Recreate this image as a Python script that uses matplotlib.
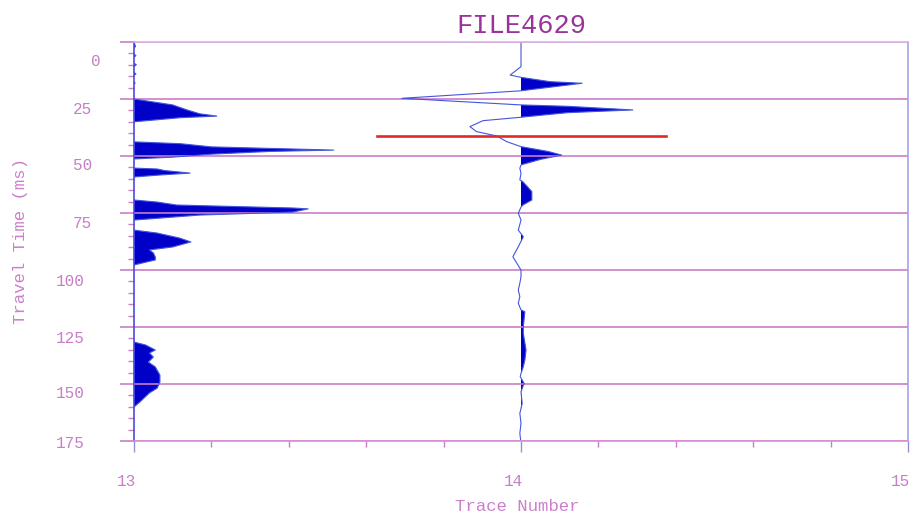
import matplotlib
matplotlib.use("Agg")
import matplotlib.pyplot as plt
import matplotlib.transforms as mtransforms
import numpy as np

# trace 13: travel time (ms) / amplitude (fraction of trace spacing)
t13 = [0, 2, 4, 6, 8, 10, 12, 14, 16, 18, 21, 25.0, 27.6, 29.8, 31.5, 32.5, 33.2, 35.0,
       39, 43.8, 44.6, 46.0, 46.8, 47.4, 48.0, 49.2, 50.5, 51.3, 53, 55.3, 55.7,
       56.4, 57.5, 58.3, 59.2, 63, 69.3, 70.2, 71.5, 72.8, 73.2, 74.6, 75.9, 78.1,
       80, 82.5, 83.8, 86.0, 87.7, 89.9, 91.2, 92.5, 94.3, 95.6, 97.8, 105, 115,
       125, 131.6, 132.9, 135.1, 136.4, 138.2, 140.4, 142.5, 146.1, 149.1, 151.8,
       153.9, 157.9, 160.1, 166, 176]
a13 = [0, 0.004, -0.01, 0.005, -0.01, 0.006, -0.01, 0.005, -0.01, 0.003, -0.02, 0, 0.10,
       0.137, 0.17, 0.214, 0.12, 0, -0.2, 0, 0.12, 0.2, 0.38, 0.516, 0.35, 0.2,
       0.1, 0, -0.1, 0, 0.06, 0.08, 0.145, 0.07, 0, -0.2, 0, 0.06, 0.11, 0.41,
       0.45, 0.41, 0.17, 0, -0.05, 0, 0.06, 0.118, 0.147, 0.10, 0.04, 0.05,
       0.055, 0.055, 0, -0.08, -0.1, -0.05, 0, 0.03, 0.055, 0.04, 0.05, 0.037,
       0.055, 0.067, 0.067, 0.06, 0.04, 0.015, 0, -0.02, 0]

# trace 14
t14 = [0, 10.8, 14.5, 15.5, 17.4, 18.1, 21.4, 24.7, 27.6, 28.2, 29.8, 31.0, 33.0,
       34.5, 37.1, 39.3, 41.2, 43.7, 45.9, 48.0, 49.6, 51.5, 53.9, 55.4, 57.6,
       60.5, 61.3, 65.6, 69.3, 71.5, 72.4, 75.1, 78.1, 82.5, 85.4, 89.8, 94.2,
       100, 102.9, 105.8, 108.8, 111.7, 114.6, 117.5, 118.3, 124.9, 127.8,
       135.1, 139.5, 142.4, 145.3, 146.8, 149.7, 153.4, 158.5, 162.9, 167.3,
       171.6, 176]
a14 = [0, 0, -0.028, 0, 0.075, 0.158, 0, -0.308, 0, 0.12, 0.289, 0.12, 0,
       -0.098, -0.132, -0.115, -0.063, -0.037, 0, 0.07, 0.105, 0.05, 0, -0.003,
       0, -0.003, 0.005, 0.028, 0.028, 0.005, 0, -0.007, 0, -0.007, 0.006,
       -0.007, -0.021, 0, 0, -0.003, -0.007, -0.003, -0.007, 0, 0.01, 0.006,
       0.006, 0.013, 0.01, 0.006, 0, -0.002, 0.008, 0, 0.003, -0.003, 0,
       -0.003, 0]

traces = [13, 14]
pick_time = 41.2
pick_span = [13.628, 14.375]

y_ticks = [0, 25, 50, 75, 100, 125, 150, 175]
x_ticks = [13, 14, 15]

GRID = "#c87ec8"
TXT = "#c77ec7"
FILL = "#0000c8"
WIG = "#4455dd"
FONT = "Liberation Mono"

fig = plt.figure(figsize=(9.11, 5.14), dpi=100)
ax = fig.add_axes([134 / 911, 1 - 441 / 514, 774 / 911, 399 / 514])

for tr, t, a in zip(traces, [t13, t14], [t13 and a13, a14]):
    t = np.asarray(t)
    x = tr + np.asarray(a)
    ax.fill_betweenx(t, tr, x, where=x > tr, interpolate=True, color=FILL, lw=0)
    ax.plot(x, t, color=WIG, lw=0.8)

ax.plot(pick_span, [pick_time, pick_time], color="#e02a2a", lw=1.9, zorder=5)

ax.set_xlim(13, 15)
ax.set_ylim(175, 0)

ax.set_yticks(y_ticks)
ax.set_yticks(np.arange(0, 176, 5), minor=True)
ax.set_xticks(x_ticks)
ax.set_xticks(np.arange(13, 15.01, 0.2), minor=True)
ax.grid(axis="y", which="major", color=GRID, lw=1.2)

ax.tick_params(axis="y", which="major", length=10, width=1.2, color=GRID,
               pad=20, labelcolor=TXT, labelsize=11.5)
ax.tick_params(axis="y", which="minor", length=4.3, width=1, color=GRID)
ax.tick_params(axis="x", which="major", length=8, width=1, color="#9090d8",
               pad=16, labelcolor=TXT, labelsize=11.5)
ax.tick_params(axis="x", which="minor", length=4.3, width=1, color=GRID)

for lab in ax.get_yticklabels() + ax.get_xticklabels():
    lab.set_fontfamily(FONT)

# the original program draws the time labels slightly below the grid lines
y_off = [(8, -18), (0, -9), (0, -8), (0, -9), (-8, -10), (-8, -10), (-8, -8), (-8, -1)]
for lab, (dx, dy) in zip(ax.get_yticklabels(), y_off):
    lab.set_transform(lab.get_transform() +
                      mtransforms.ScaledTranslation(dx / 100, dy / 100, fig.dpi_scale_trans))
for lab in ax.get_xticklabels():
    lab.set_horizontalalignment("right")
    lab.set_transform(lab.get_transform() +
                      mtransforms.ScaledTranslation(2 / 100, 0, fig.dpi_scale_trans))

ax.spines["left"].set_color("#4a4ae6")
ax.spines["right"].set_color("#a4a4e4")
ax.spines["top"].set_color("#d8b4e4")
ax.spines["bottom"].set_color("#d890d8")
for s in ax.spines.values():
    s.set_linewidth(1.2)

ax.set_title("FILE4629", fontfamily=FONT, fontsize=19.5, color="#993399", pad=6.5)
ax.set_xlabel("Trace Number", fontfamily=FONT, fontsize=12.5, color="#cc80cc")
ax.set_ylabel("Travel Time (ms)", fontfamily=FONT, fontsize=12.5, color="#cc80cc")
ax.xaxis.set_label_coords(0.495, -0.163)
ax.xaxis.label.set_va("center")
ax.yaxis.set_label_coords(-0.147, 0.5)
ax.yaxis.label.set_va("center")

fig.savefig("out.png", dpi=100)
